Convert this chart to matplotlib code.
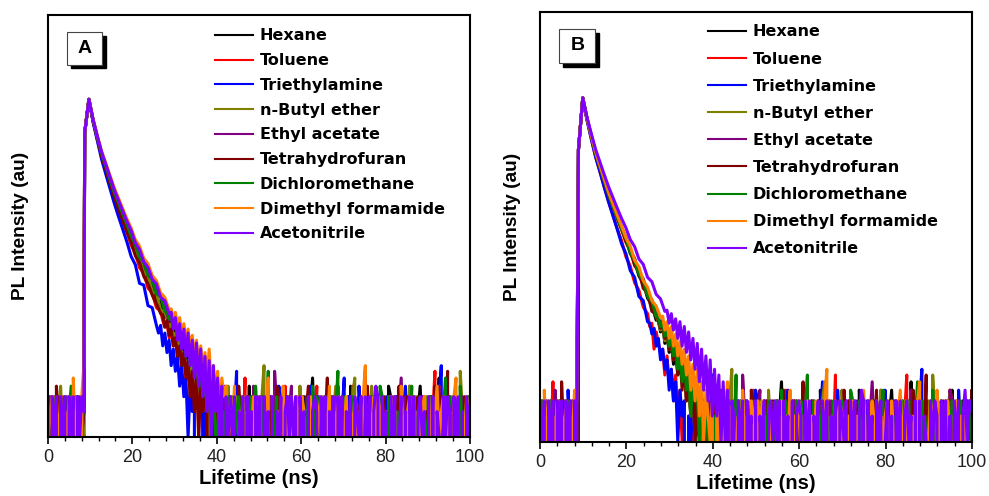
import numpy as np
import matplotlib.pyplot as plt
from matplotlib.patches import Rectangle
from matplotlib.ticker import MultipleLocator, NullLocator

plt.rcParams['font.family'] = ['Liberation Sans', 'DejaVu Sans']

solvents = ["Hexane", "Toluene", "Triethylamine", "n-Butyl ether", "Ethyl acetate",
            "Tetrahydrofuran", "Dichloromethane", "Dimethyl formamide", "Acetonitrile"]
colors = ["#000000", "#ff0000", "#0000ff", "#808000", "#800080",
          "#800000", "#008000", "#ff8000", "#8000ff"]

# ---- panel A ----
# background counts 0-8.5 ns, one digit per 0.5 ns bin
a_pre = ["203120213021302012", "120312031203120213", "312021302130213021",
         "021302413021302103", "130213021302130312", "213041302130213012",
         "302130213024130213", "123021302130512037", "303130313031303132"]
# counts every 1 ns starting at the rising edge (8.7 ns)
a_t0 = 8.7
a_head = [
    [4000, 10000, 5600, 3500, 2200, 1550, 1070, 740, 540, 400, 295, 212, 170, 118, 106, 70, 64, 42, 40, 26],
    [4000, 10000, 5500, 3400, 2100, 1450, 1000, 690, 495, 360, 265, 188, 150, 101, 88, 58, 51, 34, 31],
    [4000, 10000, 5300, 3200, 1950, 1300, 880, 590, 410, 290, 205, 138, 110, 66, 63, 36, 34, 21],
    [4000, 10000, 5600, 3500, 2250, 1560, 1080, 750, 545, 405, 300, 230, 158, 132, 90, 82, 53, 50, 32, 30],
    [4000, 10000, 5700, 3600, 2300, 1650, 1150, 810, 600, 450, 335, 245, 198, 140, 121, 85, 75, 52, 46, 33],
    [4000, 10000, 5500, 3450, 2150, 1480, 1020, 700, 505, 370, 270, 206, 140, 116, 80, 65, 48, 38, 29],
    [4000, 10000, 5650, 3550, 2280, 1620, 1120, 790, 590, 440, 330, 240, 192, 136, 117, 82, 73, 49, 47, 31],
    [4000, 10000, 5800, 3700, 2450, 1750, 1250, 900, 680, 510, 385, 300, 218, 182, 131, 113, 82, 71, 51, 45, 32],
    [4000, 10000, 5750, 3650, 2380, 1700, 1200, 850, 640, 480, 360, 280, 200, 166, 119, 102, 74, 65, 45, 41, 29],
]
# tail counts after the head, one base-36 digit per 0.5 ns bin
a_tail = [
    "rlohjdgac8b69573624351 2031201312 1302210402 0213120231 3102013021 1203102513 2013021302 0312041203 1230213012 2104301320 3012130241 0231021503 1320312012 2013204130",
    "oknfice9c7a58463524132 3012130241 0231021503 1320312012 2013204130 0321301203 1402130312 3120213041 2301602130 1032130213 0213041320 2130312601 3021302103 1203120430",
    "hlchae7b694735142302 0213041320 2130312601 3021302103 1203120430 0312021302 2140213021 1302301250 3012041203 2031320130 0123021402 1320130213 2013702131 3201203120",
    "pjmfhbe9a7859362425314 0123021402 1320130213 2013702131 3201203120 0410231302 1230310241 2301203501 0132041203 3102302130 1024013210 2310320413 0203130621 1320240132",
    "torjngkdhae8c7a584735243 1024013210 2310320413 0203130621 1320240132 2031201312 1302210402 0213120231 3102013021 1203102513 2013021302 0312041203 1230213012 2104301320",
    "rkogjcf9c7a5836251423 2013021302 0312041203 1230213012 2104301320 3012130241 0231021503 1320312012 2013204130 0321301203 1402130312 3120213041 2301602130 1032130213",
    "vpskogjcg9d7b69473624351 1402130312 3120213041 2301602130 1032130213 0213041320 2130312601 3021302103 1203120430 0312021302 2140213021 1302301250 3012041203 2031320130",
    "xpulqhmejbg9e7c6a5b473625341 2140213021 1302301250 3012041203 2031320130 0123021402 1320130213 2013702131 3201203120 0410231302 1230310241 2301203501 0132041203 3102302130",
    "ujqembj9h7e5d4b3928172514031 3130213031 2031303120 3021302313 1303120302 3203130213 0313021303 2130313024 3031203130 1302031302 3120303021 0313203130 2031302413 3102031302",
]

# ---- panel B ----
b_pre = ["130213021302130212", "213021502130213021", "021302130213041302",
         "302130213021302130", "120312041203120312", "213020213051302130",
         "031203120312031202", "204130213021302143", "313031303130313031"]
b_t0 = 8.9
b_head = [
    [2500, 10000, 5700, 3550, 2250, 1560, 1080, 750, 545, 400, 295, 224, 155, 126, 85, 70, 47, 39, 26],
    [2500, 10000, 5500, 3300, 2050, 1380, 920, 620, 430, 300, 218, 142, 111, 71, 58, 37, 31],
    [2500, 10000, 5450, 3280, 2030, 1370, 900, 610, 425, 295, 200, 154, 98, 82, 49, 44, 25],
    [2500, 10000, 5680, 3520, 2240, 1550, 1070, 745, 540, 402, 292, 214, 164, 116, 93, 65, 51, 36, 29],
    [2500, 10000, 5750, 3600, 2300, 1600, 1110, 780, 570, 420, 312, 240, 168, 136, 93, 79, 53, 45, 31],
    [2500, 10000, 5700, 3560, 2260, 1570, 1085, 752, 548, 398, 298, 210, 171, 112, 97, 61, 55, 33, 31],
    [2500, 10000, 5720, 3580, 2280, 1580, 1100, 765, 555, 410, 302, 232, 160, 131, 89, 76, 50, 43, 29],
    [2500, 10000, 5760, 3620, 2320, 1620, 1130, 795, 585, 432, 322, 236, 188, 130, 109, 75, 63, 44, 38, 28],
    [2500, 10000, 5900, 3800, 2500, 1780, 1270, 920, 690, 520, 395, 308, 225, 187, 134, 116, 82, 73, 52, 46, 33],
]
b_tail = [
    "qjneibe8c7a583625142 1302210402 0213120231 3102013021 1203102513 2013021302 0312041203 1230213012 2104301320 3012130241 0231021503 1320312012 2013204130 0321301203",
    "mocjebc6a5736241302130 0231021503 1320312012 2013204130 0321301203 1402130312 3120213041 2301602130 1032130213 0213041320 2130312601 3021302103 1203120430 0312021302",
    "oildg9c794735142302131 2130312601 3021302103 1203120430 0312021302 2140213021 1302301250 3012041203 2031320130 0123021402 1320130213 2013702131 3201203120 0410231302",
    "pkmfhcd9b69573524132 1320130213 2013702131 3201203120 0410231302 1230310241 2301203501 0132041203 3102302130 1024013210 2310320413 0203130621 1320240132 2031201312",
    "snqimehbe8c6a583725341 2310320413 0203130621 1320240132 2031201312 1302210402 0213120231 3102013021 1203102513 2013021302 0312041203 1230213012 2104301320 3012130241",
    "qlogjcf9b6a483625132 0312041203 1230213012 2104301320 3012130241 0231021503 1320312012 2013204130 0321301203 1402130312 3120213041 2301602130 1032130213 0213041320",
    "smphldgad7b59472534132 3120213041 2301602130 1032130213 0213041320 2130312601 3021302103 1203120430 0312021302 2140213021 1302301250 3012041203 2031320130 0123021402",
    "tkpgmdiaf8c6a483725142 1302301250 3012041203 2031320130 0123021402 1320130213 2013702131 3201203120 0410231302 1230310241 2301203501 0132041203 3102302130 1024013210",
    "yovkrgpdmbj9g7e5c4a392726151403 2031303120 3021302313 1303120302 3203130213 0313021303 2130313024 3031203130 1302031302 3120303021 0313203130 2031302413 3102031302 1303021303",
]


def build(pre, head, tail, t0):
    pre_c = [int(c, 36) for c in pre]
    tail_c = [int(c, 36) for c in tail.replace(" ", "")]
    t_pre = 0.5 * np.arange(len(pre_c))
    t_head = t0 + np.arange(len(head))
    t_tail = t_head[-1] + 0.5 * np.arange(1, len(tail_c) + 1)
    t = np.concatenate([t_pre, t_head, t_tail])
    y = np.concatenate([pre_c, head, tail_c]).astype(float)
    return t, y


def panel(ax, pre, head, tail, t0, letter, leg_anchor, leg_space):
    for name, col, p, h, tl in zip(solvents, colors, pre, head, tail):
        t, y = build(p, h, tl, t0)
        ax.plot(t, y, color=col, lw=2.2, label=name)
    ax.set_yscale('log', nonpositive='clip')
    ax.set_ylim(1, 1e5)
    ax.set_xlim(0, 100)
    ax.xaxis.set_major_locator(MultipleLocator(20))
    ax.xaxis.set_minor_locator(MultipleLocator(4))
    ax.yaxis.set_major_locator(NullLocator())
    ax.yaxis.set_minor_locator(NullLocator())
    ax.tick_params(axis='x', which='major', direction='out', length=5, width=1.2,
                   labelsize=13, labelcolor='#222222', pad=4)
    ax.tick_params(axis='x', which='minor', direction='out', length=3, width=1.0)
    for s in ax.spines.values():
        s.set_linewidth(1.5)
        s.set_zorder(4)
    ax.set_xlabel("Lifetime (ns)", fontsize=14.5, fontweight='bold', labelpad=2)
    ax.set_ylabel("PL Intensity (au)", fontsize=13.8, fontweight='bold', labelpad=14)

    leg = ax.legend(loc='upper left', bbox_to_anchor=leg_anchor, frameon=False,
                    borderpad=0, borderaxespad=0, handlelength=2.4, handletextpad=0.4,
                    labelspacing=leg_space, prop={'family': 'DejaVu Sans', 'weight': 'bold', 'size': 11.5})
    for line in leg.get_lines():
        line.set_linewidth(1.5)

    # letter tag with drop shadow
    x0, y0, w, h, off = 0.045, 0.882, 0.083, 0.078, 0.009
    ax.add_patch(Rectangle((x0 + off, y0 - off), w, h, transform=ax.transAxes,
                           facecolor='black', edgecolor='black', zorder=5))
    ax.add_patch(Rectangle((x0, y0), w, h, transform=ax.transAxes,
                           facecolor='white', edgecolor='#444444', lw=0.8, zorder=6))
    ax.text(x0 + w / 2, y0 + h / 2, letter, transform=ax.transAxes, ha='center', va='center',
            fontsize=14, fontweight='bold', zorder=7)


fig = plt.figure(figsize=(9.89, 4.96), dpi=100)
ax_a = fig.add_axes([0.0485, 0.119, 0.4267, 0.851])
ax_b = fig.add_axes([0.546, 0.109, 0.4368, 0.867])

panel(ax_a, a_pre, a_head, a_tail, a_t0, "A", (0.396, 0.968), 0.61)
panel(ax_b, b_pre, b_head, b_tail, b_t0, "B", (0.389, 0.971), 0.76)

fig.savefig("out.png", dpi=100)
